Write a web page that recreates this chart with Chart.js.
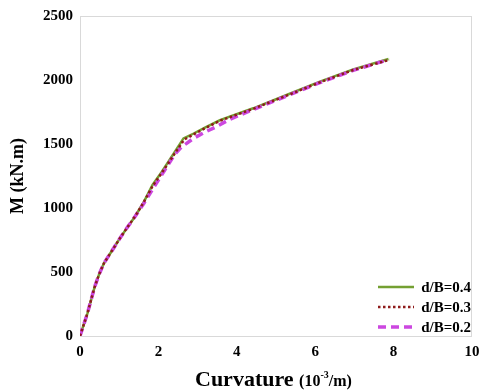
<!DOCTYPE html>
<html>
<head>
<meta charset="utf-8">
<script src="https://cdn.jsdelivr.net/npm/chart.js@4"></script>
<style>
  html, body { margin: 0; padding: 0; background: #fff; }
  #wrap { width: 480px; height: 392px; }
</style>
</head>
<body>
<div id="wrap"><canvas id="chart"></canvas></div>
<script>
// Moment-curvature curves (curvature in 10^-3/m, M in kN.m)
var curv_04 = [0, 0.19, 0.37, 0.49, 0.61, 0.79, 1.0, 1.19, 1.4, 1.61, 1.85, 2.08, 2.38, 2.64, 2.9, 3.2, 3.57, 4.42, 5.27, 6.12, 6.97, 7.87];
var moment_04 = [0, 177, 380, 484, 568, 654, 755, 841, 932, 1037, 1180, 1280, 1420, 1544, 1582, 1630, 1687, 1779, 1883, 1987, 2083, 2164];

var curv_03 = [0, 0.19, 0.37, 0.49, 0.61, 0.79, 1.0, 1.19, 1.4, 1.61, 1.86, 2.1, 2.4, 2.66, 2.9, 3.2, 3.57, 4.42, 5.27, 6.12, 6.97, 7.9];
var moment_03 = [0, 177, 380, 484, 568, 654, 755, 841, 932, 1037, 1175, 1280, 1418, 1535, 1575, 1625, 1682, 1775, 1878, 1982, 2078, 2158];

var curv_02 = [0, 0.19, 0.37, 0.49, 0.61, 0.79, 1.0, 1.19, 1.4, 1.63, 1.9, 2.15, 2.42, 2.6, 2.72, 2.9, 3.2, 3.5, 3.8, 4.42, 5.27, 6.12, 6.97, 7.75];
var moment_02 = [0, 177, 380, 484, 568, 654, 755, 841, 932, 1037, 1170, 1290, 1420, 1480, 1505, 1545, 1595, 1638, 1690, 1770, 1875, 1980, 2075, 2148];

var labels = ['d/B=0.4', 'd/B=0.3', 'd/B=0.2'];
var x_ticks = [0, 2, 4, 6, 8, 10];
var y_ticks = [0, 500, 1000, 1500, 2000, 2500];

const serif = "'Liberation Serif', 'Times New Roman', serif";

function ToPoints(xs, ys) {
    let pts = [];
    for (let i = 0; i < xs.length; i++) {
        pts.push({x: xs[i], y: ys[i]});
    }
    return pts;
}

// box round the plot area, legend in the lower right corner, x title with superscript
const extras = {
    id: 'extras',
    beforeDatasetsDraw(chart) {
        const a = chart.chartArea;
        const ctx = chart.ctx;
        ctx.save();
        ctx.strokeStyle = '#d9d9d9';
        ctx.lineWidth = 1;
        ctx.strokeRect(a.left + 0.5, a.top + 0.5, a.right - a.left - 1, a.bottom - a.top);
        ctx.restore();
    },
    afterDraw(chart) {
        const a = chart.chartArea;
        const ctx = chart.ctx;
        ctx.save();

        // legend
        const sets = chart.data.datasets;
        for (let i = 0; i < sets.length; i++) {
            const y = a.bottom - 49 + i * 20;
            ctx.beginPath();
            ctx.strokeStyle = sets[i].borderColor;
            ctx.lineWidth = sets[i].borderWidth;
            ctx.lineCap = 'butt';
            ctx.setLineDash(sets[i].borderDash || []);
            ctx.moveTo(a.right - 94, y);
            ctx.lineTo(a.right - 58, y);
            ctx.stroke();
            ctx.setLineDash([]);
            ctx.fillStyle = '#000';
            ctx.font = 'bold 15px ' + serif;
            ctx.textAlign = 'right';
            ctx.textBaseline = 'middle';
            ctx.fillText(sets[i].label, a.right - 1, y + 1);
        }

        // x axis title: Curvature (10^-3/m)
        const base = 386;
        ctx.textAlign = 'left';
        ctx.textBaseline = 'alphabetic';
        ctx.font = 'bold 22px ' + serif;
        let x = 195;
        ctx.fillText('Curvature', x, base);
        x += ctx.measureText('Curvature ').width;
        ctx.font = 'bold 16px ' + serif;
        ctx.fillText('(10', x, base);
        x += ctx.measureText('(10').width;
        ctx.font = 'bold 10px ' + serif;
        ctx.fillText('-3', x, base - 8);
        x += ctx.measureText('-3').width;
        ctx.font = 'bold 16px ' + serif;
        ctx.fillText('/m)', x, base);
        ctx.restore();
    }
};

document.addEventListener('DOMContentLoaded', function() {
    new Chart(document.getElementById('chart'), {
        type: 'scatter',
        data: {
            datasets: [{
                label: labels[0],
                data: ToPoints(curv_04, moment_04),
                borderColor: '#74a032',
                borderWidth: 2.5,
                order: 3
            }, {
                label: labels[1],
                data: ToPoints(curv_03, moment_03),
                borderColor: '#8e1b1b',
                borderWidth: 2.5,
                borderDash: [2.5, 2.5],
                order: 1
            }, {
                label: labels[2],
                data: ToPoints(curv_02, moment_02),
                borderColor: '#cc47e0',
                borderWidth: 3.5,
                borderDash: [8, 5],
                order: 2
            }]
        },
        options: {
            responsive: true,
            maintainAspectRatio: false,
            animation: false,
            showLine: true,
            elements: {
                point: { radius: 0, hoverRadius: 0 },
                line: { tension: 0, fill: false }
            },
            layout: { padding: { top: 16, right: 0, left: 0, bottom: 0 } },
            plugins: {
                legend: { display: false },
                tooltip: { enabled: false }
            },
            scales: {
                x: {
                    type: 'linear',
                    min: x_ticks[0],
                    max: x_ticks[x_ticks.length - 1],
                    afterBuildTicks: (s) => { s.ticks = x_ticks.map(v => ({value: v})); },
                    afterFit: (s) => { s.height = 56; s.paddingRight = 8; },
                    grid: { display: false, drawTicks: false },
                    border: { display: false },
                    ticks: {
                        padding: 7,
                        color: '#000',
                        callback: (v) => String(v),
                        font: { family: serif, size: 15, weight: 'bold' }
                    }
                },
                y: {
                    type: 'linear',
                    min: y_ticks[0],
                    max: y_ticks[y_ticks.length - 1],
                    afterBuildTicks: (s) => { s.ticks = y_ticks.map(v => ({value: v})); },
                    afterFit: (s) => { s.width = 80; },
                    grid: { display: false, drawTicks: false },
                    border: { display: false },
                    title: {
                        display: true,
                        text: 'M (kN.m)',
                        color: '#000',
                        padding: { top: 8, bottom: 0 },
                        font: { family: serif, size: 18, weight: 'bold' }
                    },
                    ticks: {
                        padding: 7,
                        color: '#000',
                        callback: (v) => String(v),
                        font: { family: serif, size: 15, weight: 'bold' }
                    }
                }
            }
        },
        plugins: [extras]
    });
});
</script>
</body>
</html>
